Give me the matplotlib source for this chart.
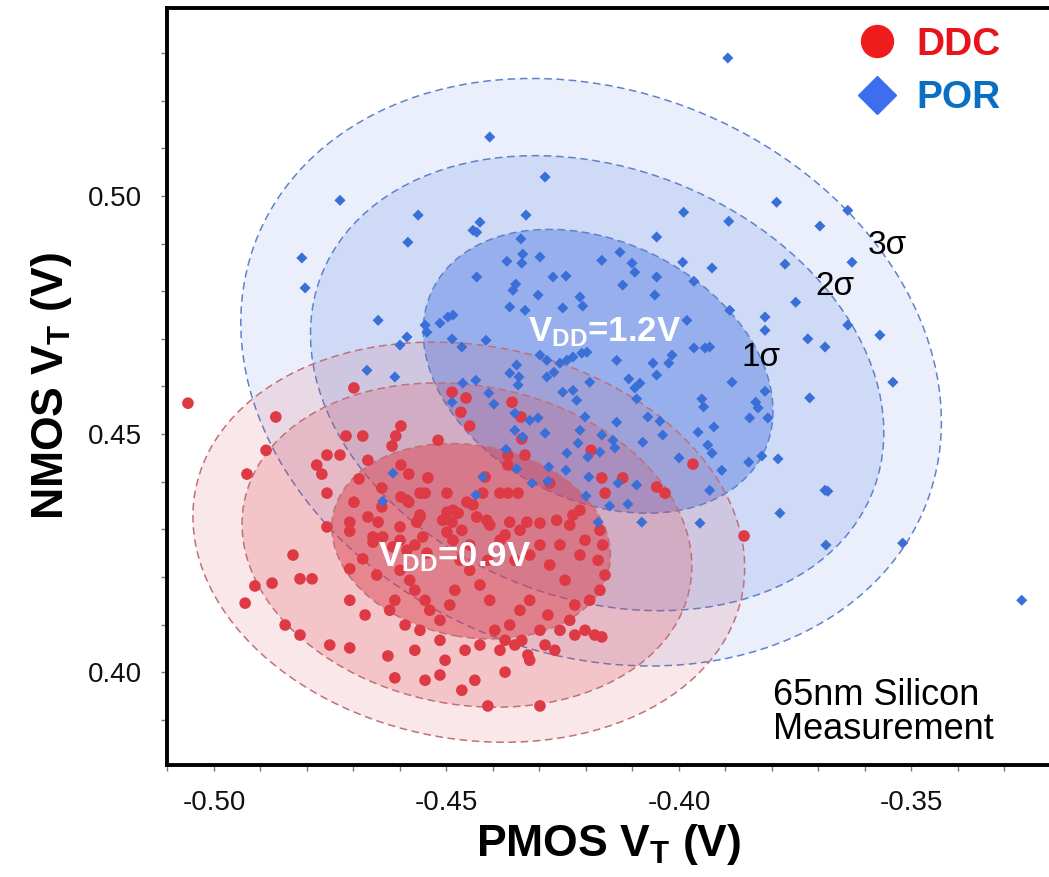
import matplotlib
matplotlib.use("Agg")
import matplotlib.pyplot as plt
from matplotlib.patches import Ellipse
from matplotlib.lines import Line2D
from matplotlib.ticker import MultipleLocator, FormatStrFormatter

plt.rcParams['font.family'] = ['Liberation Sans', 'DejaVu Sans']
plt.rcParams['mathtext.fontset'] = 'custom'
plt.rcParams['mathtext.rm'] = 'Liberation Sans'
plt.rcParams['mathtext.bf'] = 'Liberation Sans:bold'
plt.rcParams['mathtext.it'] = 'Liberation Sans:italic'

# ---------------- data ----------------
ddc_pmos = [-0.5056, -0.4867, -0.4888, -0.4929, -0.4699, -0.4716, -0.4680, -0.4598, -0.4609, -0.4617,
            -0.4518, -0.4757, -0.4729, -0.4779, -0.4768, -0.4669, -0.4598, -0.4581, -0.4540, -0.4688,
            -0.4757, -0.4639, -0.4699, -0.4598, -0.4581, -0.4557, -0.4546, -0.4639, -0.4669, -0.4647,
            -0.4708, -0.4708, -0.4757, -0.4600, -0.4564, -0.4557, -0.4658, -0.4637, -0.4658, -0.4600,
            -0.4568, -0.4551, -0.4499, -0.4488, -0.4499, -0.4486, -0.4830, -0.4680, -0.4708, -0.4615,
            -0.4585, -0.4542, -0.4815, -0.4789, -0.4650, -0.4488, -0.4458, -0.4469, -0.4450, -0.4359,
            -0.4340, -0.4338, -0.4331, -0.4368, -0.4368, -0.4189, -0.3970, -0.4121, -0.4166, -0.4159,
            -0.4048, -0.4030, -0.4278, -0.4346, -0.4368, -0.4385, -0.4417, -0.4456, -0.4499, -0.4486,
            -0.4475, -0.4585, -0.4422, -0.4443, -0.4228, -0.4213, -0.4263, -0.4327, -0.4299, -0.4364,
            -0.4435, -0.4413, -0.4508, -0.4557, -0.4170, -0.4164, -0.4174, -0.4159, -0.4170, -0.4202,
            -0.4213, -0.4192, -0.4224, -0.4235, -0.4256, -0.4282, -0.4299, -0.4288, -0.4321, -0.4342,
            -0.4364, -0.4374, -0.4396, -0.4407, -0.4428, -0.4450, -0.4471, -0.4482, -0.4493, -0.4514,
            -0.4536, -0.4546, -0.4568, -0.4579, -0.4600, -0.4611, -0.4622, -0.4589, -0.4557, -0.4514,
            -0.4460, -0.4428, -0.4385, -0.4353, -0.4325, -0.4267, -0.4224, -0.4202, -0.4181, -0.4245,
            -0.4278, -0.4321, -0.4353, -0.4385, -0.4411, -0.4450, -0.4467, -0.4407, -0.4374, -0.4342,
            -0.4299, -0.4256, -0.4235, -0.4546, -0.4514, -0.4467, -0.4411, -0.4299, -0.4611, -0.4626,
            -0.4708, -0.4751, -0.4815, -0.4847, -0.4933, -0.4912, -0.4875, -0.4708, -0.4675, -0.4568,
            -0.4503, -0.4439, -0.4374, -0.4321, -0.4338, -0.4166, -0.3860]
ddc_nmos = [0.4565, 0.4536, 0.4466, 0.4416, 0.4597, 0.4496, 0.4496, 0.4517, 0.4496, 0.4475,
            0.4487, 0.4456, 0.4456, 0.4435, 0.4416, 0.4445, 0.4435, 0.4416, 0.4408, 0.4406,
            0.4376, 0.4387, 0.4357, 0.4368, 0.4357, 0.4376, 0.4376, 0.4347, 0.4326, 0.4315,
            0.4315, 0.4296, 0.4305, 0.4305, 0.4315, 0.4330, 0.4284, 0.4284, 0.4273, 0.4277,
            0.4267, 0.4284, 0.4336, 0.4315, 0.4294, 0.4277, 0.4246, 0.4238, 0.4217, 0.4263,
            0.4256, 0.4250, 0.4196, 0.4196, 0.4204, 0.4588, 0.4576, 0.4546, 0.4517, 0.4567,
            0.4536, 0.4490, 0.4456, 0.4456, 0.4435, 0.4466, 0.4437, 0.4408, 0.4408, 0.4376,
            0.4389, 0.4376, 0.4397, 0.4376, 0.4376, 0.4376, 0.4410, 0.4357, 0.4376, 0.4340,
            0.4334, 0.4361, 0.4376, 0.4351, 0.4330, 0.4340, 0.4319, 0.4315, 0.4313, 0.4315,
            0.4326, 0.4319, 0.4319, 0.4326, 0.4298, 0.4267, 0.4235, 0.4204, 0.4172, 0.4277,
            0.4246, 0.4151, 0.4141, 0.4109, 0.4088, 0.4120, 0.4088, 0.4057, 0.4151, 0.4130,
            0.4099, 0.4067, 0.4088, 0.4151, 0.4183, 0.4214, 0.4235, 0.4172, 0.4141, 0.4109,
            0.4130, 0.4151, 0.4172, 0.4193, 0.4214, 0.4151, 0.4130, 0.4099, 0.4088, 0.4067,
            0.4046, 0.4057, 0.4046, 0.4057, 0.4036, 0.4046, 0.4078, 0.4088, 0.4078, 0.4193,
            0.4225, 0.4246, 0.4235, 0.4277, 0.4235, 0.4267, 0.4298, 0.4309, 0.4288, 0.4298,
            0.4267, 0.4267, 0.4309, 0.3983, 0.3994, 0.3962, 0.3929, 0.3929, 0.3988, 0.4034,
            0.4051, 0.4057, 0.4078, 0.4099, 0.4145, 0.4181, 0.4187, 0.4151, 0.4120, 0.4046,
            0.4025, 0.3983, 0.4000, 0.4025, 0.4067, 0.4074, 0.4286]

por_pmos = [-0.3895, -0.4407, -0.4288, -0.4729, -0.4583, -0.4811, -0.4804, -0.4647, -0.4600, -0.4561,
            -0.4329, -0.4443, -0.4428, -0.4435, -0.4340, -0.4048, -0.3990, -0.3893, -0.3790, -0.3772,
            -0.3723, -0.3749, -0.3815, -0.3815, -0.3891, -0.3929, -0.3992, -0.3968, -0.4052, -0.4048,
            -0.4101, -0.4095, -0.4127, -0.4166, -0.4121, -0.4213, -0.4207, -0.4243, -0.4271, -0.4299,
            -0.4336, -0.4338, -0.4370, -0.4435, -0.4351, -0.4357, -0.4303, -0.4250, -0.4364, -0.4331,
            -0.4415, -0.4486, -0.4497, -0.4514, -0.4546, -0.4542, -0.4585, -0.4488, -0.4467, -0.4299,
            -0.4284, -0.4256, -0.4241, -0.4228, -0.4209, -0.4198, -0.4269, -0.4349, -0.4364, -0.4344,
            -0.4346, -0.4284, -0.4250, -0.4228, -0.4220, -0.4192, -0.4134, -0.4108, -0.4084, -0.4095,
            -0.4091, -0.4048, -0.4056, -0.4015, -0.4022, -0.3968, -0.3944, -0.3934, -0.3983, -0.3925,
            -0.3886, -0.3951, -0.3947, -0.3835, -0.3830, -0.3848, -0.3809, -0.3815, -0.3787, -0.3822,
            -0.3850, -0.3680, -0.3783, -0.3908, -0.3934, -0.3955, -0.3938, -0.3929, -0.3959, -0.4000,
            -0.4035, -0.4041, -0.4067, -0.4078, -0.4134, -0.4142, -0.4138, -0.4166, -0.4202, -0.4213,
            -0.4217, -0.4196, -0.4241, -0.4280, -0.4243, -0.4194, -0.4131, -0.4091, -0.4110, -0.4149,
            -0.4200, -0.4170, -0.4288, -0.4303, -0.4353, -0.4336, -0.4321, -0.4372, -0.4349, -0.4316,
            -0.4282, -0.4409, -0.4398, -0.4465, -0.4437, -0.4488, -0.4353, -0.4422, -0.4437, -0.4080,
            -0.4671, -0.4611, -0.4615, -0.4637, -0.3637, -0.3697, -0.3628, -0.3637, -0.3686, -0.3568,
            -0.3540, -0.3686, -0.3684, -0.3519, -0.3263, -0.3719, -0.4174]
por_nmos = [0.5290, 0.5124, 0.5040, 0.4991, 0.4903, 0.4870, 0.4807, 0.4739, 0.4687, 0.4960,
            0.4960, 0.4928, 0.4945, 0.4924, 0.4910, 0.4914, 0.4966, 0.4947, 0.4987, 0.4857,
            0.4700, 0.4777, 0.4746, 0.4718, 0.4760, 0.4849, 0.4861, 0.4821, 0.4792, 0.4830,
            0.4859, 0.4840, 0.4882, 0.4865, 0.4813, 0.4788, 0.4769, 0.4832, 0.4830, 0.4872,
            0.4878, 0.4859, 0.4863, 0.4830, 0.4815, 0.4802, 0.4792, 0.4765, 0.4767, 0.4760,
            0.4697, 0.4750, 0.4746, 0.4733, 0.4729, 0.4714, 0.4704, 0.4700, 0.4683, 0.4666,
            0.4655, 0.4649, 0.4655, 0.4662, 0.4670, 0.4672, 0.4630, 0.4645, 0.4628, 0.4620,
            0.4603, 0.4620, 0.4588, 0.4592, 0.4571, 0.4609, 0.4655, 0.4616, 0.4607, 0.4597,
            0.4574, 0.4624, 0.4649, 0.4666, 0.4649, 0.4681, 0.4681, 0.4683, 0.4739, 0.4515,
            0.4609, 0.4574, 0.4557, 0.4567, 0.4555, 0.4534, 0.4534, 0.4590, 0.4448, 0.4454,
            0.4441, 0.4380, 0.4334, 0.4424, 0.4382, 0.4313, 0.4477, 0.4460, 0.4504, 0.4450,
            0.4498, 0.4527, 0.4536, 0.4483, 0.4525, 0.4487, 0.4471, 0.4498, 0.4536, 0.4508,
            0.4481, 0.4452, 0.4460, 0.4431, 0.4424, 0.4410, 0.4397, 0.4393, 0.4353, 0.4349,
            0.4370, 0.4462, 0.4502, 0.4534, 0.4508, 0.4494, 0.4529, 0.4468, 0.4427, 0.4397,
            0.4401, 0.4586, 0.4563, 0.4607, 0.4613, 0.4567, 0.4544, 0.4410, 0.4372, 0.4315,
            0.4634, 0.4620, 0.4418, 0.4359, 0.4970, 0.4937, 0.4861, 0.4729, 0.4683, 0.4708,
            0.4609, 0.4382, 0.4267, 0.4271, 0.4151, 0.4576, 0.4315]

# sigma contours (outer to inner): 3, 2, 1 sigma
sigma_labels = ["3\u03c3", "2\u03c3", "1\u03c3"]
por_ell_cx = [-0.4189, -0.4176, -0.4174]
por_ell_cy = [0.4630, 0.4607, 0.4632]
por_ell_w = [0.1544, 0.1270, 0.0790]
por_ell_h = [0.1187, 0.0906, 0.0545]
por_ell_angle = [-20, -20, -25]
ddc_ell_cx = [-0.4452, -0.4456, -0.4447]
ddc_ell_cy = [0.4273, 0.4267, 0.4275]
ddc_ell_w = [0.1196, 0.0975, 0.0604]
ddc_ell_h = [0.0827, 0.0670, 0.0403]
ddc_ell_angle = [-10, -10, -10]

x_ticks = [-0.50, -0.45, -0.40, -0.35]
y_ticks = [0.40, 0.45, 0.50]

# ---------------- figure ----------------
fig = plt.figure(figsize=(10.49, 8.77), dpi=100)
ax = fig.add_axes([167 / 1049, 1 - 765 / 877, (1051 - 167) / 1049, (765 - 8) / 877])
ax.set_xlim(-0.5101, -0.3200)
ax.set_ylim(0.3805, 0.5395)

por_fill = (0.27, 0.45, 0.88)
ddc_fill = (0.86, 0.25, 0.30)
por_alpha = [0.11, 0.17, 0.40]
ddc_alpha = [0.12, 0.20, 0.47]

for i in range(3):
    ax.add_patch(Ellipse((por_ell_cx[i], por_ell_cy[i]), por_ell_w[i], por_ell_h[i],
                         angle=por_ell_angle[i], facecolor=por_fill + (por_alpha[i],),
                         edgecolor='#5f82cc', lw=1.1, linestyle=(0, (5, 3)), zorder=1 + i))
for i in range(3):
    ax.add_patch(Ellipse((ddc_ell_cx[i], ddc_ell_cy[i]), ddc_ell_w[i], ddc_ell_h[i],
                         angle=ddc_ell_angle[i], facecolor=ddc_fill + (ddc_alpha[i],),
                         edgecolor='#c07078', lw=1.1, linestyle=(0, (5, 3)), zorder=4 + i))

ax.scatter(ddc_pmos, ddc_nmos, s=70, marker='o', color='#de3a45', edgecolors='none', zorder=8)
ax.scatter(por_pmos, por_nmos, s=32, marker='D', color='#3a6fd8', edgecolors='none', zorder=9)

# annotations
ax.text(-0.4159, 0.4714, "V$_{\\mathbf{DD}}$=1.2V", color='white', fontsize=25,
        fontweight='bold', ha='center', va='center', zorder=10)
ax.text(-0.4482, 0.4242, "V$_{\\mathbf{DD}}$=0.9V", color='white', fontsize=25,
        fontweight='bold', ha='center', va='center', zorder=10)
sig_x = [-0.3551, -0.3665, -0.3824]
sig_y = [0.4897, 0.4811, 0.4660]
for lab, sx, sy in zip(sigma_labels, sig_x, sig_y):
    ax.text(sx, sy, lab, fontsize=24, ha='center', va='center', color='black', zorder=10)

ax.text(-0.3798, 0.3987, "65nm Silicon\nMeasurement", fontsize=26, ha='left', va='top',
        linespacing=0.95, color='black', zorder=10)

# axes styling
for side in ['left', 'top', 'bottom']:
    ax.spines[side].set_linewidth(2.8)
    ax.spines[side].set_color('black')
ax.spines['right'].set_visible(False)

ax.xaxis.set_minor_locator(MultipleLocator(0.01))
ax.yaxis.set_minor_locator(MultipleLocator(0.01))
ax.set_xticks(x_ticks)
ax.set_yticks(y_ticks)
ax.xaxis.set_major_formatter(FormatStrFormatter('%.2f'))
ax.yaxis.set_major_formatter(FormatStrFormatter('%.2f'))
ax.tick_params(which='both', direction='out', length=4, width=1, color='#777777')
ax.tick_params(axis='both', which='major', labelsize=20, pad=14, labelcolor='#111111')

ax.set_xlabel("PMOS V$_{\\mathbf{T}}$ (V)", fontsize=32, fontweight='bold', labelpad=4)
ax.set_ylabel("NMOS V$_{\\mathbf{T}}$ (V)", fontsize=32, fontweight='bold', labelpad=10)

# legend
handles = [Line2D([], [], marker='o', linestyle='', color='#ee1c1c', markersize=23),
           Line2D([], [], marker='D', linestyle='', color='#3d6ef0', markersize=19)]
leg = ax.legend(handles, ["DDC", "POR"], loc='upper left', bbox_to_anchor=(858 / 1049, 1 - 27 / 877),
                bbox_transform=fig.transFigure, frameon=False, borderpad=0, borderaxespad=0,
                handlelength=1.0, handletextpad=0.5, labelspacing=0.45,
                prop={'weight': 'bold', 'size': 28})
leg.get_texts()[0].set_color('#e8141c')
leg.get_texts()[1].set_color('#0a6fc2')

fig.savefig("out.png", dpi=100)
